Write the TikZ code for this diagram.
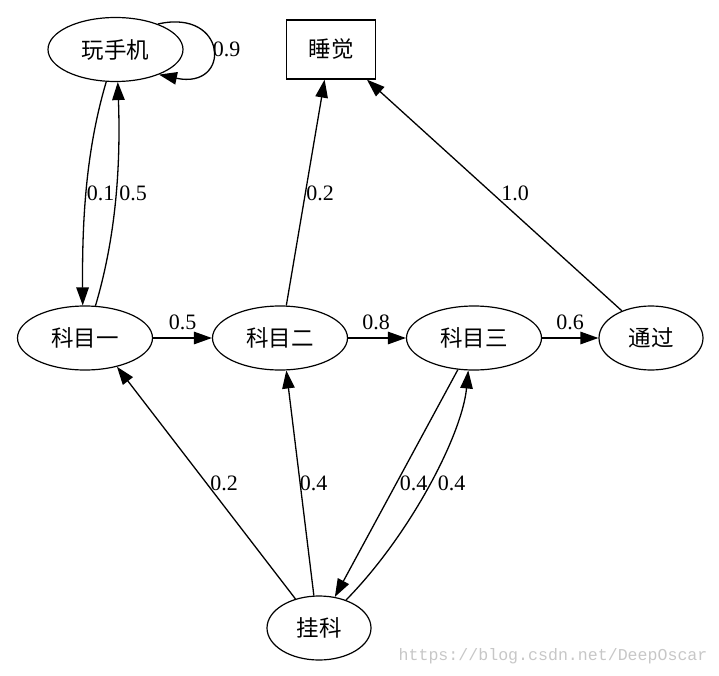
\documentclass[tikz,border=0pt]{standalone}
\usepackage{fontspec}
\setmainfont{Liberation Serif}
\newfontfamily\cjk{Noto Sans CJK SC}
\newfontfamily\wmfont{Liberation Mono}
\usetikzlibrary{arrows.meta,shapes.geometric}
\begin{document}
\begin{tikzpicture}[x=1pt,y=-1pt,line width=1.3pt,
  >={Triangle[length=18pt,width=12.5pt]},
  state/.style={ellipse,draw,line width=1.2pt,inner sep=0pt,minimum height=64pt,
    font=\cjk\fontsize{22.5}{26}\selectfont},
  wide/.style={state,minimum width=135pt},
  narrow/.style={state,minimum width=104pt},
  boxnode/.style={rectangle,draw,line width=1.2pt,inner sep=0pt,minimum width=89pt,
    minimum height=59pt,font=\cjk\fontsize{22.5}{26}\selectfont},
  lbl/.style={inner sep=0pt,font=\fontsize{22}{26}\selectfont}]
\useasboundingbox (0,0) rectangle (719,676);
\node[wide] (wan) at (115.5,49.5) {玩手机};
\node[boxnode] (sleep) at (331,49.5) {睡觉};
\node[wide] (k1) at (85,338) {科目一};
\node[wide] (k2) at (280,338) {科目二};
\node[wide] (k3) at (474,338) {科目三};
\node[narrow] (pass) at (651,338) {通过};
\node[narrow] (fail) at (319,628) {挂科};

\draw[->] (wan.254) .. controls (86,150) and (82,220) .. (k1.94);
\draw[->] (k1.72) .. controls (115,240) and (121,170) .. (wan.274);
\draw[->] (wan.31) .. controls (228,8) and (232,90) .. (wan.-30);
\draw[->] (k1.east) -- (k2.west);
\draw[->] (k2.79) -- (sleep.258.5);
\draw[->] (k2.east) -- (k3.west);
\draw[->] (k3.east) -- (pass.west);
\draw[->] (pass.137) -- (sleep.320);
\draw[->] (fail.129) -- (k1.318);
\draw[->] (fail.99) -- (k2.281);
\draw[->] (k3.243) -- (fail.63);
\draw[->] (fail.46) .. controls (410,535) and (462,435) .. (k3.260);

\node[lbl] (l1) at (100.5,193) {0.1};
\node[lbl] (l2) at (133,193) {0.5};
\node[lbl] (l3) at (226.5,49) {0.9};
\node[lbl] (l4) at (182.5,322) {0.5};
\node[lbl] (l5) at (320,193) {0.2};
\node[lbl] (l6) at (376,322) {0.8};
\node[lbl] (l7) at (570,322) {0.6};
\node[lbl] (l8) at (515,193) {1.0};
\node[lbl] (l9) at (224,483) {0.2};
\node[lbl] (l10) at (313.5,483) {0.4};
\node[lbl] (l11) at (413.5,483) {0.4};
\node[lbl] (l12) at (451.5,483) {0.4};

\node[anchor=west,inner sep=0pt,text=black!22,font=\wmfont\fontsize{16.6}{20}\selectfont] (wm) at (398,656) {https://blog.csdn.net/DeepOscar};
\end{tikzpicture}
\end{document}
